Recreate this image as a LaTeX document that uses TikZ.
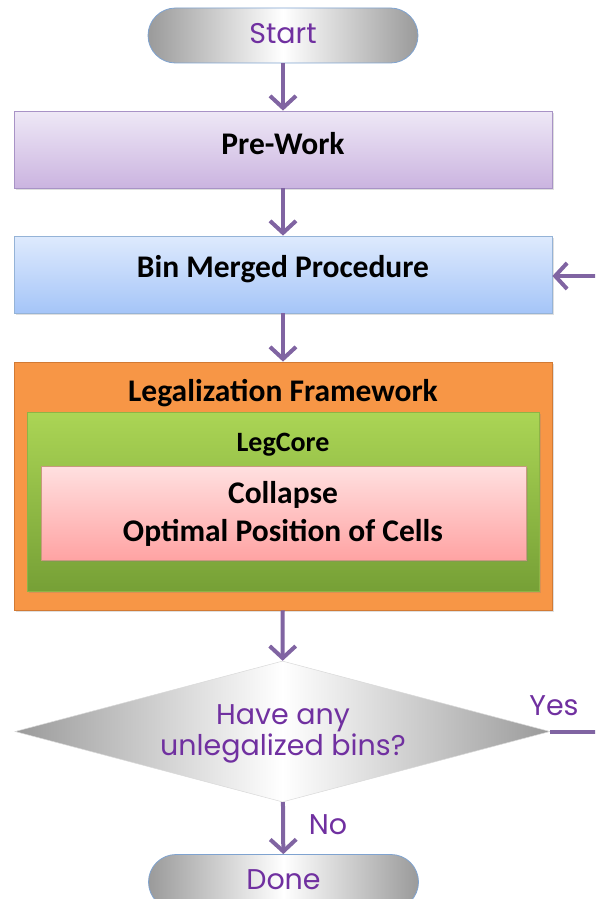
\documentclass[tikz,border=0pt]{standalone}
\usepackage{fontspec}
\setmainfont{Carlito}
\newfontfamily\handfont{Poppins}
\usetikzlibrary{arrows.meta,shapes.geometric,shapes.misc,shadows}

\definecolor{flowpurple}{HTML}{8064A2}
\definecolor{labelpurple}{HTML}{7030A0}
\definecolor{preTop}{HTML}{EEE8F6}
\definecolor{preBot}{HTML}{CBB4E0}
\definecolor{preLine}{HTML}{A893C6}
\definecolor{binTop}{HTML}{DEEAFD}
\definecolor{binBot}{HTML}{A5C5F8}
\definecolor{binLine}{HTML}{95B3D7}
\definecolor{frameFill}{HTML}{F79646}
\definecolor{frameLine}{HTML}{D27A34}
\definecolor{coreTop}{HTML}{ABD555}
\definecolor{coreBot}{HTML}{76A036}
\definecolor{coreLine}{HTML}{8DB446}
\definecolor{cellTop}{HTML}{FFE0E0}
\definecolor{cellBot}{HTML}{FFA3A3}
\definecolor{cellLine}{HTML}{C8997E}
\definecolor{termLine}{HTML}{7FA3D0}
\definecolor{greyEdge}{HTML}{9A9A9A}

\begin{document}
\begin{tikzpicture}[x=1pt,y=-1pt,
  softshadow/.style={drop shadow={opacity=0.25,shadow xshift=1.5pt,shadow yshift=-2pt}},
  blockbox/.style={rectangle,inner sep=0pt,line width=0.8pt,softshadow},
  terminal/.style={rounded rectangle,inner sep=0pt,minimum width=270pt,minimum height=55pt,
    draw=termLine,line width=0.8pt,left color=greyEdge,right color=greyEdge,middle color=white},
  boxtext/.style={inner sep=0pt,text height=20pt,text depth=0pt,
    font=\bfseries\fontsize{31.5}{38}\selectfont},
  handtext/.style={inner sep=0pt,text=labelpurple,text height=20pt,text depth=0pt,
    font=\handfont\fontsize{28.5}{34}\selectfont},
  flow/.style={draw=flowpurple,line width=4pt,-{Straight Barb[length=12pt,width=26pt]}},
  flowline/.style={draw=flowpurple,line width=4pt}]

\useasboundingbox (0,0) rectangle (595,899);
\clip (0,0) rectangle (595,899);

% terminals
\node[terminal] (start) at (283,35.5) {};
\node[handtext] (starttext) at (283,34) {Start};

% process blocks
\node[blockbox,minimum width=538pt,minimum height=77pt,draw=preLine,
  top color=preTop,bottom color=preBot] (pre) at (283,149.5) {};
\node[boxtext] (pretext) at (283,144) {Pre-Work};

\node[blockbox,minimum width=538pt,minimum height=77pt,draw=binLine,
  top color=binTop,bottom color=binBot] (bin) at (283,274.5) {};
\node[boxtext] (bintext) at (283,267.5) {Bin Merged Procedure};

% nested legalization framework
\node[blockbox,minimum width=538pt,minimum height=248pt,draw=frameLine,
  fill=frameFill] (frame) at (283,486) {};
\node[boxtext] (frametext) at (283,391) {Legalization Framework};

\node[blockbox,minimum width=512pt,minimum height=179pt,draw=coreLine,
  top color=coreTop,bottom color=coreBot] (core) at (283,501.5) {};
\node[boxtext,text height=18pt,font=\bfseries\fontsize{28}{34}\selectfont]
  (coretext) at (283,442) {LegCore};

\node[blockbox,minimum width=485pt,minimum height=94pt,draw=cellLine,
  top color=cellTop,bottom color=cellBot] (cell) at (283.5,513) {};
\node[boxtext] (celltexta) at (283,493.5) {Collapse};
\node[boxtext] (celltextb) at (283,531.5) {Optimal Position of Cells};

% decision
\node[diamond,inner sep=0pt,minimum width=535pt,minimum height=141pt,
  draw=white!85!black,line width=0.5pt,left color=greyEdge,right color=greyEdge,
  middle color=white] (dec) at (282.5,731.5) {};
\node[handtext] (dectexta) at (283,714) {Have any};
\node[handtext] (dectextb) at (283,745) {unlegalized bins?};

\node[terminal] (done) at (283.5,882) {};
\node[handtext] (donetext) at (283.5,879) {Done};

% connectors
\draw[flow] (start) -- (pre);
\draw[flow] (pre) -- (bin);
\draw[flow] (bin) -- (frame);
\draw[flow] (frame) -- (dec);
\draw[flow] (dec) -- (done);
\node[handtext] (nolabel) at (328,824) {No};

\coordinate (yesend) at (600,731.5);
\coordinate (loopin) at (600,276);
\draw[flowline] (dec.east) -- (yesend);
\node[handtext] (yeslabel) at (554,705) {Yes};
\draw[flow] (loopin) -- (bin.east |- loopin);
\end{tikzpicture}
\end{document}
